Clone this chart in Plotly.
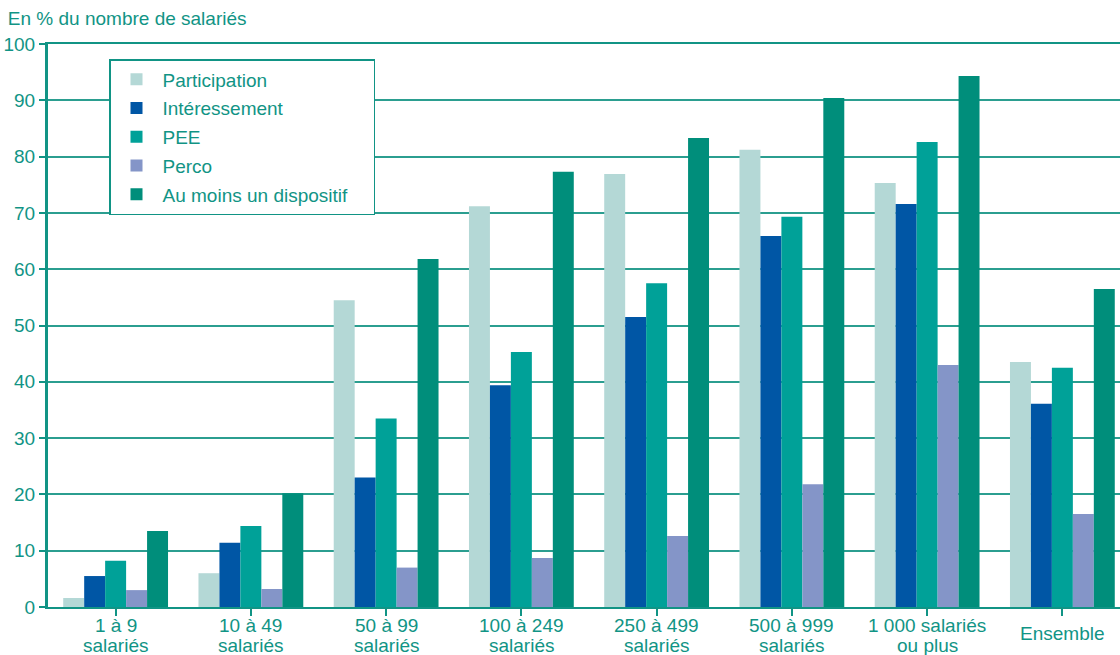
import plotly.graph_objects as go

categories = ["1 à 9<br>salariés", "10 à 49<br>salariés", "50 à 99<br>salariés",
              "100 à 249<br>salariés", "250 à 499<br>salariés", "500 à 999<br>salariés",
              "1 000 salariés<br>ou plus", "Ensemble"]
participation = [1.6, 6.0, 54.5, 71.2, 76.9, 81.2, 75.3, 43.5]
interessement = [5.5, 11.4, 23.0, 39.4, 51.5, 65.9, 71.6, 36.1]
pee = [8.2, 14.4, 33.5, 45.3, 57.5, 69.3, 82.6, 42.5]
perco = [3.0, 3.2, 7.0, 8.7, 12.6, 21.8, 43.0, 16.5]
au_moins = [13.5, 20.2, 61.8, 77.3, 83.3, 90.4, 94.3, 56.5]
y_ticks = [0, 10, 20, 30, 40, 50, 60, 70, 80, 90, 100]

series = [
    ("Participation", participation, "#b4d8d6"),
    ("Intéressement", interessement, "#0056a5"),
    ("PEE", pee, "#00a198"),
    ("Perco", perco, "#8495c8"),
    ("Au moins un dispositif", au_moins, "#008e7b"),
]

TEAL = "#119485"
FONT = "Liberation Sans, Arial, sans-serif"
FS = 19
PAD = "\u00a0" * 4

fig = go.Figure()
for i, (name, vals, col) in enumerate(series):
    fig.add_trace(go.Bar(x=list(range(len(categories))), y=vals, name=name + PAD,
                         marker=dict(color=col, line=dict(width=0)),
                         legendgroup=f"g{i}"))

for i, lab in enumerate(categories):
    lines = lab.split("<br>")
    if len(lines) == 1:
        shifts = [-26]
    else:
        shifts = [-18, -38]
    for line, sh in zip(lines, shifts):
        fig.add_annotation(x=i, y=0, xref="x", yref="paper", text=line,
                           showarrow=False, yanchor="middle", yshift=sh,
                           font=dict(family=FONT, size=FS, color=TEAL), align="center")

fig.update_layout(
    width=1120, height=655,
    margin=dict(l=48, r=0, t=44, b=48),
    paper_bgcolor="white", plot_bgcolor="white",
    barmode="group", bargap=0.225, bargroupgap=0,
    font=dict(family=FONT, size=FS, color=TEAL),
    title=dict(text="En % du nombre de salariés", xref="container", yref="container",
               x=0.007, xanchor="left", y=1 - 18 / 655, yanchor="middle",
               font=dict(family=FONT, size=FS, color=TEAL)),
    legend=dict(x=(109 - 48) / 1072, y=(607 - 59) / 563, xanchor="left", yanchor="top",
                bgcolor="white", bordercolor=TEAL, borderwidth=1.5,
                font=dict(family=FONT, size=FS, color=TEAL),
                tracegroupgap=1, traceorder="grouped", itemwidth=42),
    showlegend=True,
)
fig.update_xaxes(range=[-0.5, 7.5 - 10 / 135.25], tickmode="array",
                 tickvals=list(range(len(categories))), ticktext=[""] * len(categories),
                 tickson="boundaries", ticks="outside", ticklen=7, tickwidth=2,
                 tickcolor=TEAL, showline=True, linecolor=TEAL, linewidth=2,
                 mirror=True, showgrid=False, zeroline=False)
fig.update_yaxes(range=[0, 100], tickvals=y_ticks, ticks="outside", ticklen=6,
                 tickwidth=2, tickcolor=TEAL, showline=True, linecolor=TEAL,
                 linewidth=3, showgrid=True, gridcolor="#2b9e90", gridwidth=2,
                 zeroline=False, tickfont=dict(family=FONT, size=FS, color=TEAL))

fig.write_html("out.html")
